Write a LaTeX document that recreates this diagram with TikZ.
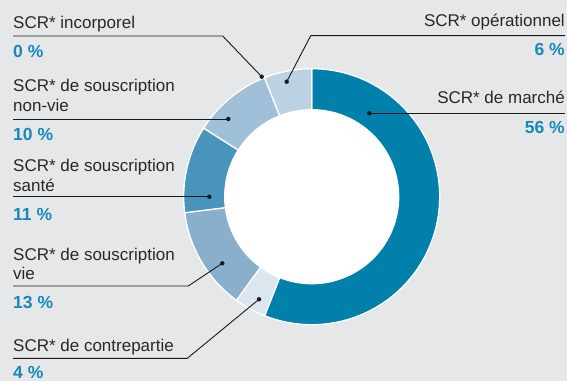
\documentclass[tikz,border=0pt]{standalone}
\usepackage{fontspec}
\setmainfont{Liberation Sans}
\definecolor{bg}{RGB}{230,231,232}
\definecolor{txt}{RGB}{40,40,40}
\definecolor{pct}{RGB}{22,137,186}
\definecolor{cmarche}{RGB}{0,128,170}
\definecolor{ccontre}{RGB}{220,230,239}
\definecolor{cvie}{RGB}{136,175,203}
\definecolor{csante}{RGB}{72,148,189}
\definecolor{cnonvie}{RGB}{160,191,216}
\definecolor{cop}{RGB}{188,210,227}
\tikzset{
  lbl/.style={inner sep=0pt, text=txt, font=\fontsize{17}{20}\selectfont},
  pc/.style={inner sep=0pt, text=pct, font=\fontsize{17.5}{20}\selectfont\bfseries},
  leader/.style={draw=black!90, line width=0.9pt},
  wedge/.style={draw=white, line width=1.3pt},
}
\begin{document}
\begin{tikzpicture}[x=1pt,y=1pt]
\fill[bg] (0,0) rectangle (567,381);
\useasboundingbox (0,0) rectangle (567,381);
% donut
\begin{scope}[shift={(311.7,184.3)}]
\def\RR{128}\def\rr{87}
\filldraw[wedge, fill=cmarche] (90:\RR) arc[start angle=90,end angle=-111.6,radius=\RR] -- (-111.6:\rr) arc[start angle=-111.6,end angle=90,radius=\rr] -- cycle;
\filldraw[wedge, fill=ccontre] (-111.6:\RR) arc[start angle=-111.6,end angle=-126,radius=\RR] -- (-126:\rr) arc[start angle=-126,end angle=-111.6,radius=\rr] -- cycle;
\filldraw[wedge, fill=cvie] (-126:\RR) arc[start angle=-126,end angle=-172.8,radius=\RR] -- (-172.8:\rr) arc[start angle=-172.8,end angle=-126,radius=\rr] -- cycle;
\filldraw[wedge, fill=csante] (-172.8:\RR) arc[start angle=-172.8,end angle=-212.4,radius=\RR] -- (-212.4:\rr) arc[start angle=-212.4,end angle=-172.8,radius=\rr] -- cycle;
\filldraw[wedge, fill=cnonvie] (-212.4:\RR) arc[start angle=-212.4,end angle=-248.4,radius=\RR] -- (-248.4:\rr) arc[start angle=-248.4,end angle=-212.4,radius=\rr] -- cycle;
\filldraw[wedge, fill=cop] (-248.4:\RR) arc[start angle=-248.4,end angle=-270,radius=\RR] -- (-270:\rr) arc[start angle=-270,end angle=-248.4,radius=\rr] -- cycle;
\fill[white] (0,0) circle[radius=\rr-0.5];
\end{scope}
% labels left
\node[lbl, anchor=base west] (tinc) at (13,352.5) {SCR* incorporel};
\node[pc, anchor=base west] (pinc) at (13,323.5) {0 \%};
\node[lbl, anchor=base west] (tnv1) at (13,289.5) {SCR* de souscription};
\node[lbl, anchor=base west] (tnv2) at (13,269.5) {non-vie};
\node[pc, anchor=base west] (pnv) at (13,241) {10 \%};
\node[lbl, anchor=base west] (tsa1) at (13,209.3) {SCR* de souscription};
\node[lbl, anchor=base west] (tsa2) at (13,189.3) {santé};
\node[pc, anchor=base west] (psa) at (13,160.3) {11 \%};
\node[lbl, anchor=base west] (tvi1) at (13,121) {SCR* de souscription};
\node[lbl, anchor=base west] (tvi2) at (13,101.5) {vie};
\node[pc, anchor=base west] (pvi) at (13,72.7) {13 \%};
\node[lbl, anchor=base west] (tco) at (13,30) {SCR* de contrepartie};
\node[pc, anchor=base west] (pco) at (13,2.5) {4 \%};
% labels right
\node[lbl, anchor=base east] (top) at (565,354.3) {SCR* opérationnel};
\node[pc, anchor=base east] (pop) at (565,325) {6 \%};
\node[lbl, anchor=base east] (tma) at (565,277.7) {SCR* de marché};
\node[pc, anchor=base east] (pma) at (565,247.7) {56 \%};
% leader coordinates
\coordinate (a1) at (13,345); \coordinate (a2) at (222.7,345); \coordinate (da) at (261.7,304.3);
\coordinate (b1) at (565,345.3); \coordinate (b2) at (310.7,345.3); \coordinate (db) at (286.7,299.3);
\coordinate (c1) at (565,267.7); \coordinate (dc) at (369.3,267.7);
\coordinate (d1) at (13,262); \coordinate (dd) at (228.3,262);
\coordinate (e1) at (13,184.3); \coordinate (de) at (209.3,184.3);
\coordinate (f1) at (13,95); \coordinate (f2) at (188.3,95); \coordinate (df) at (222.3,117.7);
\coordinate (g1) at (13,22.7); \coordinate (g2) at (187.3,22.7); \coordinate (dg) at (259,81.7);
\draw[leader] (a1) -- (a2) -- (da);
\draw[leader] (b1) -- (b2) -- (db);
\draw[leader] (c1) -- (dc);
\draw[leader] (d1) -- (dd);
\draw[leader] (e1) -- (de);
\draw[leader] (f1) -- (f2) -- (df);
\draw[leader] (g1) -- (g2) -- (dg);
\foreach \p in {da,db,dc,dd,de,df,dg} \fill[black!90] (\p) circle[radius=2.2];
\end{tikzpicture}
\end{document}
